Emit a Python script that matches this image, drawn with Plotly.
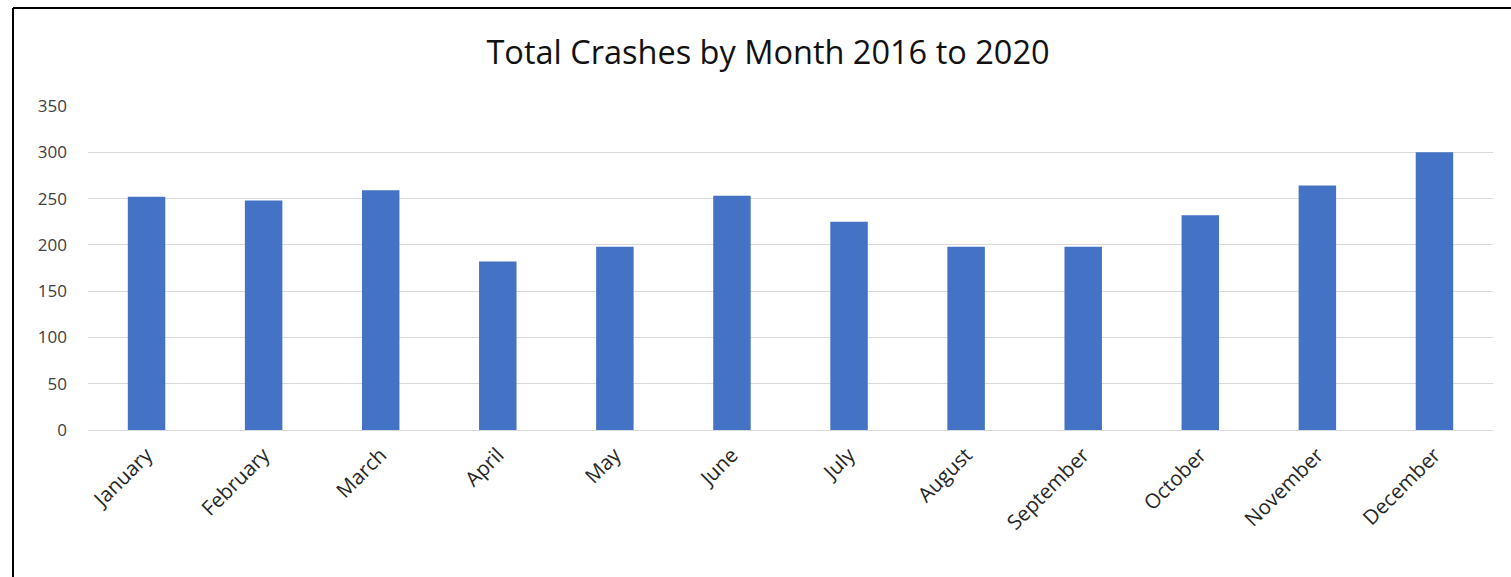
import plotly.graph_objects as go

months = ["January", "February", "March", "April", "May", "June",
          "July", "August", "September", "October", "November", "December"]
crashes = [252, 248, 259, 182, 198, 253, 225, 198, 198, 232, 264, 300]
y_ticks = [0, 50, 100, 150, 200, 250, 300, 350]
title_text = "Total Crashes by Month 2016 to 2020"

W, H = 1511, 577
ml, mr, mt, mb = 88, 18, 106, 147
pw = W - ml - mr
ph = H - mt - mb

def px_x(p):
    return (p - ml) / pw

def px_y(p):
    return (H - mb - p) / ph

fig = go.Figure(go.Bar(x=months, y=crashes, marker=dict(color="#4472C4", line_width=0)))

fig.update_layout(
    width=W, height=H,
    margin=dict(l=ml, r=mr, t=mt, b=mb),
    paper_bgcolor="white", plot_bgcolor="white",
    bargap=0.68,
    showlegend=False,
    font=dict(family="Open Sans", color="#404040"),
    title=dict(text=title_text, x=768 / W, xanchor="center", y=1 - 53 / H, yanchor="middle",
               font=dict(family="Open Sans", size=32.5, color="#111111")),
    shapes=[
        dict(type="line", xref="paper", yref="paper", x0=px_x(13), x1=px_x(W + 5),
             y0=px_y(8), y1=px_y(8), line=dict(color="black", width=2)),
        dict(type="line", xref="paper", yref="paper", x0=px_x(13), x1=px_x(13),
             y0=px_y(8), y1=px_y(H + 5), line=dict(color="black", width=2)),
    ],
)
fig.update_xaxes(tickangle=-45, tickfont=dict(size=20.5, color="#262626"), showgrid=False,
                 showline=False, ticks="", ticklabelstandoff=8)
fig.update_yaxes(range=[0, 350], tickvals=y_ticks, showgrid=True, gridcolor="#d9d9d9",
                 gridwidth=1, zeroline=True, zerolinecolor="#d9d9d9", zerolinewidth=1,
                 tickfont=dict(size=17, color="#404040"), ticks="", ticklabelstandoff=20)

fig.write_html("out.html", config={"displayModeBar": False},
               post_script="document.body.style.margin='0';")
